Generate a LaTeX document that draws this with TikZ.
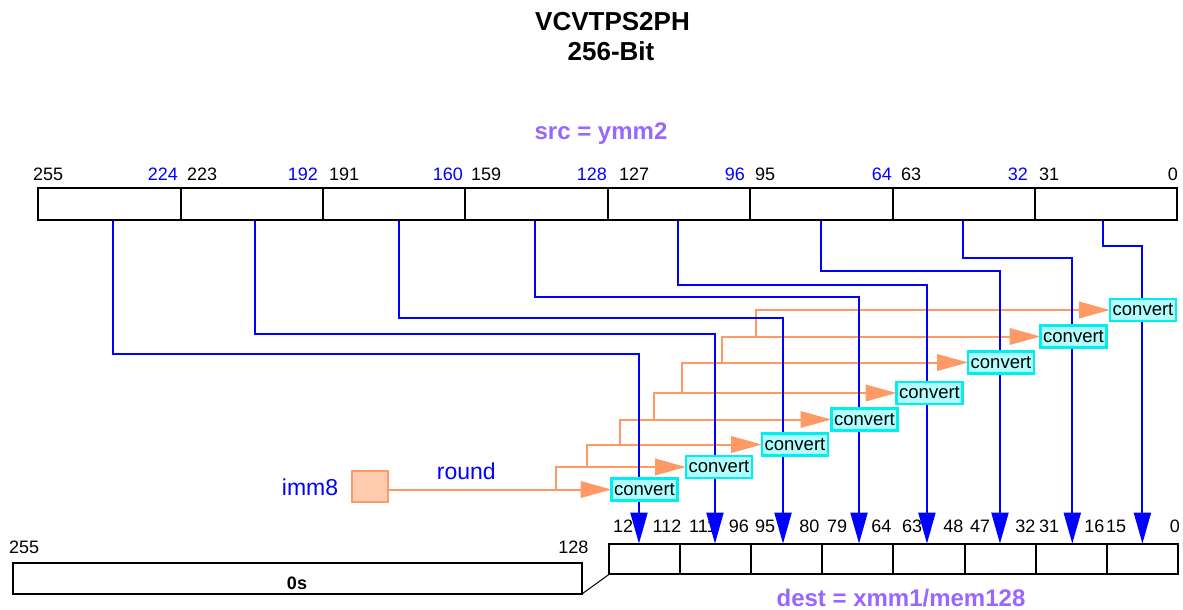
\documentclass[tikz,border=0pt]{standalone}
\usepackage{fontspec}
\setmainfont{Liberation Sans}
\usetikzlibrary{arrows.meta}
\pgfdeclarelayer{labels}
\pgfdeclarelayer{bg}
\pgfsetlayers{labels,bg,main}
\definecolor{bblue}{RGB}{0,0,255}
\definecolor{purp}{RGB}{153,102,255}
\definecolor{orng}{RGB}{255,153,102}
\definecolor{peach}{RGB}{255,204,176}
\definecolor{cyb}{RGB}{0,238,238}
\definecolor{cyf}{RGB}{176,255,255}
\begin{document}
\begin{tikzpicture}[x=1pt,y=-1pt,
  reg/.style={draw,line width=2pt,inner sep=0pt,outer sep=0pt},
  lab/.style={inner sep=0pt,font=\fontsize{18}{18}\selectfont,anchor=base west},
  labr/.style={lab,anchor=base east},
  conv/.style={draw=cyb,fill=cyf,line width=2.2pt,inner sep=0pt,outer sep=0pt,
    minimum width=66pt,minimum height=22pt,font=\fontsize{18.5}{18.5}\selectfont},
  bl/.style={bblue,line width=2pt},
  orl/.style={orng,line width=2pt},
  btip/.style={-{Triangle[length=31pt,width=17pt]}},
  otip/.style={-{Triangle[length=31pt,width=16.5pt]}},
  ttl/.style={font=\bfseries\fontsize{26}{26}\selectfont,anchor=base,inner sep=0pt},
  rlab/.style={font=\bfseries\fontsize{24}{24}\selectfont,text=purp,anchor=base,inner sep=0pt},
  blab/.style={font=\fontsize{23}{23}\selectfont,text=bblue,anchor=base,inner sep=0pt}
]
\useasboundingbox (0,0) rectangle (1183,610);

% titles
\node[ttl] (t1) at (612.5,31) {VCVTPS2PH};
\node[ttl] (t2) at (611,60) {256-Bit};
\node[rlab] (src) at (601,139.5) {src = ymm2};
\node[rlab] (dst) at (901,606) {dest = xmm1/mem128};

% source register
\foreach \i in {0,...,7}
  \node[reg,minimum width=142.39pt,minimum height=31.6pt] (s\i) at ({38.3+71.2+142.39*(7-\i)},204) {};
\foreach \t/\x in {255/33,223/187,191/329,159/471,127/619,95/755,63/901,31/1039}
  \node[lab] (tl\t) at (\x,180) {\t};
\foreach \t/\x in {224/178,192/318,160/463,128/607,96/745,64/892,32/1028}
  \node[labr,text=bblue] (tr\t) at (\x,180) {\t};
\node[labr] (tr0) at (1178,180) {0};

% destination register
\foreach \i in {0,...,7}
  \node[reg,minimum width=71.12pt,minimum height=30.8pt] (q\i) at ({609+35.56+71.12*\i},559) {};
\begin{pgfonlayer}{labels}
\foreach \t/\x in {127/613,111/689,95/755,79/827,63/902,47/970,31/1039,15/1106}
  \node[lab] (dl\t) at (\x,532) {\t};
\foreach \t/\x in {112/681.5,96/749,80/819.5,64/891.5,48/963.5,32/1035.5,16/1104.5,0/1180}
  \node[labr] (dr\t) at (\x,532) {\t};
\end{pgfonlayer}

% upper zero half
\node[reg,minimum width=568.3pt,minimum height=30.9pt] (z) at (297.5,578.7) {};
\node[font=\bfseries\fontsize{18}{18}\selectfont,anchor=base,inner sep=0pt] (zs) at (297,589.3) {0s};
\node[lab] (z255) at (9,553) {255};
\node[labr] (z128) at (588.7,553) {128};
\draw[line width=1pt] (z.south east) -- (q0.south west);

% convert boxes
\node[conv] (c1) at (644.5,489.5) {convert};
\node[conv] (c2) at (719,467) {convert};
\node[conv] (c3) at (795,444.5) {convert};
\node[conv] (c4) at (864.5,419.5) {convert};
\node[conv] (c5) at (929.5,393) {convert};
\node[conv] (c6) at (1001,362.5) {convert};
\node[conv] (c7) at (1073.5,336.5) {convert};
\node[conv] (c8) at (1143,310) {convert};

% imm8
\node[draw=orng,fill=peach,line width=1.8pt,minimum width=36.5pt,minimum height=31pt,inner sep=0pt,outer sep=0pt] (imm) at (369.9,486.5) {};
\node[blab] (immt) at (310,495) {imm8};
\node[blab] (rnd) at (466.3,479.3) {round};

\begin{pgfonlayer}{bg}
  \draw[orl,otip] (imm.east |- c1.west) -- (c1.west);
  \foreach \a/\b/\x in {1/2/556,2/3/587,3/4/620,4/5/654,5/6/682,6/7/722,7/8/756}
    \draw[orl,otip] (c\a.west -| \x,0) |- (c\b.west);
  \foreach \s/\sx/\dy/\q/\qx in {7/3.5/134.4/0/-5.6, 6/3.6/114.4/1/-0.7, 5/4.9/98.4/2/-3.8,
      4/-2/76.8/3/1.1, 3/-0.6/65.1/4/-2.1, 2/-0.8/51.1/5/-0.2, 1/-1/37.8/6/1, 0/-3.5/26.4/7/0}
    \draw[bl,btip] ([xshift=\sx pt]s\s.south) -- ++(0,\dy) -| ([xshift=\qx pt]q\q.north);
\end{pgfonlayer}
\end{tikzpicture}
\end{document}
